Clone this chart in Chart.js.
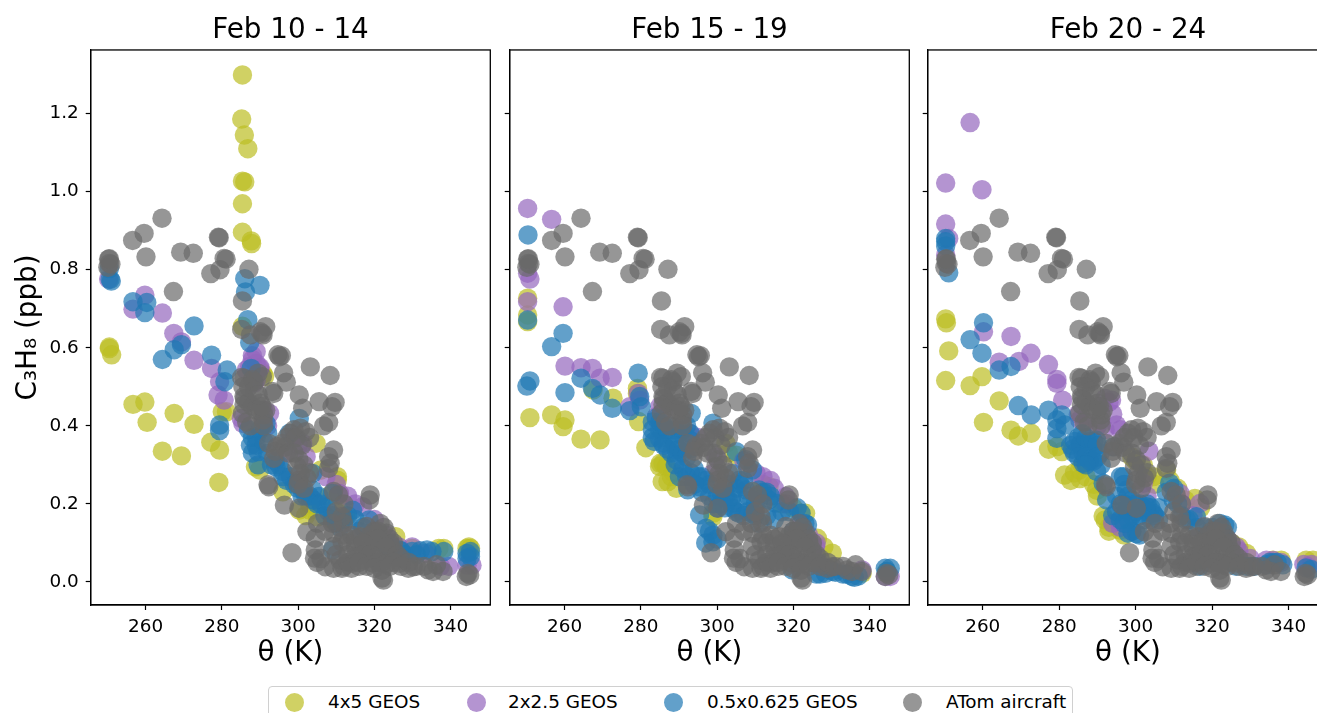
<!DOCTYPE html>
<html>
<head>
<meta charset="utf-8">
<title>C3H8 vs theta</title>
<script src="https://cdn.jsdelivr.net/npm/chart.js@4"></script>
<style>
html, body { margin: 0; padding: 0; background: #fff; overflow: hidden; width: 1317px; height: 713px; }
canvas { position: absolute; top: 0; }
#legend { position: absolute; left: 268px; top: 686px; width: 805px; height: 40px; border: 1.5px solid #d0d0d0; border-radius: 4px; box-sizing: border-box; font: 18.4px "DejaVu Sans"; color: #000; background: #fff; }
#legend span { position: absolute; top: 4px; white-space: nowrap; }
#legend i { position: absolute; top: 6px; width: 19px; height: 19px; border-radius: 50%; }
</style>
</head>
<body>
<canvas id="panel1" width="500" height="713" style="left:0"></canvas>
<canvas id="panel2" width="420" height="713" style="left:500px"></canvas>
<canvas id="panel3" width="420" height="713" style="left:918px"></canvas>
<div id="legend"></div>
<script>
const panelTitles = ["Feb 10 - 14", "Feb 15 - 19", "Feb 20 - 24"];
const seriesNames = ["4x5 GEOS", "2x2.5 GEOS", "0.5x0.625 GEOS", "ATom aircraft"];
const seriesColors = ["rgba(188,189,34,0.7)", "rgba(148,103,189,0.7)", "rgba(31,119,180,0.7)", "rgba(105,105,105,0.7)"];
const xTicks = [260, 280, 300, 320, 340];
const yTicks = [0, 0.2, 0.4, 0.6, 0.8, 1.0, 1.2];

// [theta, c3h8]
const aircraft = [[264.3,.932],[259.6,.893],[256.6,.875],[260.1,.833],[269.2,.845],[272.5,.842],[279.1,.883],[279.3,.882],[281.1,.827],[280.6,.829],[279.5,.8],[277.1,.79],[287.1,.801],[267.3,.744],[285.4,.72],[250.3,.827],[250.5,.816],[250.1,.806],[250.9,.814],[250.5,.828],[285.2,.647],[287.5,.633],[291.5,.654],[290.8,.633],[290.1,.641],[290.6,.637],[295.1,.577],[295.6,.58],[294.7,.582],[296.2,.536],[303.2,.551],[308.4,.529],[296.9,.512],[300.3,.479],[301.2,.445],[305.5,.462],[309.7,.46],[308.9,.449],[308,.409],[306.7,.4],[285.2,.524],[285.8,.522],[289.5,.535],[290.6,.526],[288.4,.513],[288,.518],[293.6,.483],[293.2,.488],[285.8,.475],[285.8,.454],[285.4,.432],[290.1,.458],[291,.428],[290.8,.415],[300.6,.394],[298,.381],[298.9,.39],[295.8,.355],[292.3,.355],[294.5,.347],[293.6,.317],[309.3,.338],[308,.321],[308.4,.304],[308,.291],[300.2,.313],[299.7,.296],[300.6,.278],[302.3,.266],[300.2,.261],[292.3,.244],[292.1,.249],[296.4,.197],[300.2,.189],[309.3,.232],[310.6,.223],[318.9,.223],[318.7,.21],[305.1,.15],[302.3,.129],[304.5,.112],[304.5,.082],[304.3,.061],[298.4,.075],[309.3,.091],[311.9,.15],[311.5,.167],[309.3,.125],[311.5,.103],[316.3,.116],[318,.142],[321.5,.15],[323.2,.125],[319.7,.108],[318,.082],[321.5,.074],[324.1,.099],[311,.056],[309.3,.035],[307.1,.039],[311.5,.035],[314.1,.048],[317.1,.056],[319.7,.048],[323.7,.065],[322,.01],[322.4,.005],[326.7,.048],[328.9,.035],[330.2,.039],[334.1,.031],[336.3,.044],[335.4,.027],[338,.027],[344.1,.014],[344.5,.022],[345,.018],[315,.09],[316,.07],[318,.1],[320,.09],[322,.1],[320,.06],[316,.04],[313,.05],[325,.08],[322,.05],[314,.12],[312,.12],[320,.13],[306,.06],
[286,.47],[287,.46],[288,.45],[289,.44],[286.5,.41],[287.5,.4],[290,.44],[291.5,.44],[290.5,.45],[285.5,.5],[287,.5],[288.5,.49],[289.5,.48],[291,.4],[297,.37],[299.5,.37],[296.5,.345],[294,.335],[297.5,.33],[302,.385],[303,.37],[301,.35],[299,.33],[301.5,.3],[300,.25],[301.5,.24],[303,.28],[319,.12],[321,.13],[322.5,.14],[324,.11],[325,.1],[313,.1],[315,.11],[317,.1],[321,.11],[323,.09],[326,.07],[327,.06],[313,.07],[315,.065],[317,.07],[319,.07],[321,.05],[323,.045],[325,.05],[312,.04],[314,.035],[316,.05],[318,.04],[320,.035],[322,.03],[324,.04],[327,.04],[329,.05],[331,.04],[333,.04],[307,.13],[305,.05],[310,.07],[309,.15],[310,.18],[312,.2]];

const olive1 = [[285.4,1.299],[285.2,1.186],[285.9,1.145],[286.8,1.11],[285.4,1.027],[286,1.025],[285.4,.969],[285.4,.896],[287.7,.874],[287.8,.867],[285.4,.655],[250.5,.602],[250.5,.598],[251.1,.582],[256.7,.455],[259.8,.461],[260.4,.409],[267.5,.432],[272.7,.404],[264.4,.335],[269.4,.323],[279.2,.255],[277.1,.358],[279.4,.338],[280.1,.436],[281.2,.436],[288.8,.295],[289.9,.287],[296,.231],[300.3,.184],[303,.184],[304.7,.355],[306,.287],[310.3,.27],[310.3,.261],[310.8,.227],[305.1,.167],[329.9,.086],[336.9,.086],[338.2,.086],[344.3,.086],[345.2,.086],[344.8,.09],[290.8,.534],[291.2,.526],[325.6,.116],[321.2,.107],[312.5,.167],[309,.16],[290.8,.44],[312,.19],[308,.22],[303,.2],[302,.17]];
const purple1 = [[250.3,.776],[256.7,.699],[259.8,.735],[264.4,.689],[267.4,.637],[269.4,.615],[272.7,.568],[277.3,.547],[279.4,.513],[279,.479],[280.6,.466],[287.3,.552],[289.9,.547],[286.4,.543],[289,.517],[285.1,.419],[285.5,.406],[292.5,.432],[301.2,.355],[302.1,.321],[307.3,.27],[310.8,.227],[316.9,.193],[329.9,.09],[333.4,.073],[337.3,.04],[339.5,.04],[344.3,.043],[345.6,.043],[326.4,.09],[288,.57],[289,.56],[290,.55],[288,.58],[289,.59],[288.5,.51],[291,.41],[291,.44],[292,.4],[299,.37],[300,.35],[297,.33],[310,.25],[313,.22],[315,.2],[320,.16],[323,.12]];
const blue1 = [[250.5,.803],[250.7,.775],[251,.771],[256.7,.718],[260.3,.716],[259.8,.69],[264.4,.57],[267.5,.595],[269.4,.608],[272.7,.656],[277.3,.581],[286,.777],[286.2,.743],[290,.76],[286.8,.672],[287.3,.613],[287.7,.547],[281.4,.543],[280.8,.513],[279.4,.402],[279.4,.388],[300.3,.419],[297.7,.381],[289,.372],[289.5,.334],[289.5,.3],[291.6,.406],[292,.381],[296,.283],[294.2,.295],[301.2,.236],[303.8,.236],[305.5,.219],[307.3,.193],[309.9,.159],[314.3,.184],[309,.227],[303.8,.278],[299.5,.253],[309,.082],[318.6,.159],[321.2,.107],[329.9,.078],[333.8,.082],[335.1,.078],[338.2,.078],[344.3,.073],[345.2,.065],[345.2,.078],[344.3,.06],[326.4,.082],[323.8,.09],
[287,.39],[288,.37],[287.5,.35],[288,.33],[289,.35],[290,.39],[291,.36],[292,.33],[293,.3],[294,.31],[295,.3],[296,.27],[297,.26],[298,.27],[299,.25],[300,.24],[301,.22],[302,.22],[303,.22],[304,.21],[305,.2],[306,.2],[307,.17],[308,.18],[309,.17],[310,.15],[311,.14],[312,.16],[313,.17],[315,.16],[316,.13],[317,.14],[322,.1],[324,.08],[327,.08],[328,.07],[331,.07],[332,.08]];

const olive2 = [[250.3,.727],[250.3,.684],[250.3,.667],[250.9,.421],[256.6,.428],[260.1,.415],[259.6,.398],[264.3,.366],[269.3,.364],[267.5,.492],[272.7,.471],[279.1,.496],[279.1,.483],[279.4,.411],[281.3,.344],[285.1,.304],[285.8,.304],[285.6,.257],[287.1,.257],[289.3,.24],[302.3,.355],[305,.325],[313.6,.244],[322,.176],[326.3,.112],[330.2,.074],[338,.022],[344.5,.027],[298.9,.176],[298.9,.167],[323.2,.176],[284.9,.296],[286.7,.296],[312,.25],[317,.2],[320,.19],[328,.09],[303,.33],[288.5,.28],[288,.27]];
const purple2 = [[250.3,.957],[256.6,.929],[250.3,.791],[250.9,.776],[250.3,.718],[259.6,.705],[260.1,.553],[264.3,.549],[267.3,.547],[269.3,.522],[272.5,.524],[279.3,.483],[277.1,.449],[279.7,.466],[284.1,.424],[292.8,.381],[299.7,.321],[310.2,.278],[298.9,.278],[318,.219],[325.8,.091],[344.1,.014],[345.4,.014],[338,.031],[285,.45],[286,.44],[293,.37],[295,.37],[307,.31],[312,.27],[314,.26],[318,.2],[322,.15],[324,.12],[326,.1],[315,.24]];
const blue2 = [[250.4,.889],[250.3,.671],[259.6,.637],[256.6,.603],[250.9,.515],[250.1,.502],[260.1,.485],[264.3,.522],[267.3,.496],[269.3,.479],[272.5,.445],[277.1,.439],[279.3,.535],[279.7,.475],[280.1,.449],[293.2,.432],[284.9,.39],[284.9,.368],[285.8,.355],[288,.372],[289.3,.338],[289.3,.313],[292.8,.364],[298.9,.407],[305,.334],[295.4,.172],[297.1,.138],[298.9,.12],[298.9,.103],[292.3,.236],[295.4,.244],[304.1,.278],[305.8,.261],[307.5,.236],[311,.236],[304.1,.202],[305.8,.176],[302.3,.219],[313.6,.21],[322,.176],[323.7,.146],[319.7,.031],[328.4,.022],[330.2,.027],[335.4,.014],[344.1,.035],[345.4,.035],[344.5,.027],[309.3,.176],[315.4,.202],[309.3,.287],[307.5,.313],[290.1,.27],
[283,.41],[283,.39],[283,.37],[283.5,.36],[284,.42],[285,.41],[286,.4],[287,.39],[288,.4],[289,.39],[290,.38],[291,.39],[292,.4],[293,.38],[286,.35],[287,.34],[288,.33],[289,.35],[290,.34],[291,.33],[292,.32],[293,.34],[289,.3],[291,.29],[293,.28],[294,.29],[295,.27],[296,.27],[297,.26],[298,.25],[296,.23],[298,.22],[300,.22],[301,.23],[302,.24],[303,.25],[305,.24],[306,.25],[307,.26],[308,.22],[309,.21],[310,.2],[311,.21],[312,.23],[313,.23],[314,.22],[303,.21],[304,.19],[305,.18],[307,.17],[308,.18],[310,.17],[311,.15],[313,.17],[315,.16],[317,.18],[319,.18],[321,.19],[323,.15],[320,.13],[298,.13],[300,.11],[297,.1],[326,.02],[327,.02],[331,.025],[333,.02],[334,.02],[336,.012],[337,.015],[292,.27],[294,.25],[299,.2],[300,.19],[301,.2],[302,.19],[304,.22]];

const olive3 = [[250.3,.674],[250.5,.664],[251.1,.592],[250.3,.516],[256.7,.503],[259.8,.526],[264.3,.464],[260.2,.409],[267.4,.389],[269.3,.374],[272.7,.381],[277.2,.34],[279.4,.347],[280.7,.334],[281.4,.274],[285.3,.287],[285.4,.265],[289.8,.235],[291.5,.169],[292,.159],[295.9,.133],[294.1,.15],[308.1,.287],[304.6,.27],[315.5,.214],[329,.073],[338.1,.056],[344.6,.056],[346.4,.056],[335.9,.056],[286,.3],[287,.27],[289,.25],[290,.22],[293,.14],[299,.32],[300,.31],[302,.3],[303,.27],[305,.25],[309,.26],[311,.24],[313,.21],[317,.19],[325,.1],[327,.09],[284,.28],[283,.26],[293,.13],[297,.12]];
const purple3 = [[256.7,1.177],[250.3,1.022],[259.8,1.005],[250.3,.917],[251.1,.88],[250.3,.838],[260.2,.641],[267.4,.629],[264.3,.563],[269.5,.565],[272.6,.586],[277.2,.557],[279.4,.519],[279.4,.509],[280.9,.466],[293.7,.466],[285.4,.415],[295,.402],[303.5,.335],[295.9,.154],[296.8,.15],[311.6,.227],[302,.253],[316.8,.201],[326.3,.09],[334.2,.056],[345,.039],[285,.43],[287,.41],[290,.4],[292,.39],[294,.43],[292,.47],[293,.46],[296,.39],[296,.14],[294,.15],[299,.13],[303,.22],[312,.2],[315,.17],[324,.11],[327,.08],[330,.06],[336,.055],[338,.05],[344,.045],[346,.045]];
const blue3 = [[250.3,.88],[250.3,.872],[250.3,.861],[251.1,.792],[260.2,.664],[256.7,.621],[259.8,.586],[264.3,.543],[267.4,.552],[269.3,.452],[272.7,.428],[277.2,.44],[280.7,.428],[279.4,.415],[279.4,.393],[281.5,.402],[279.4,.368],[285.4,.351],[287.2,.347],[288.9,.342],[289.8,.363],[290.7,.33],[294.1,.346],[286.3,.33],[286.3,.304],[289.8,.283],[291.5,.253],[292.4,.21],[296.8,.27],[297.6,.235],[302.8,.193],[304.6,.176],[300.2,.124],[308.9,.253],[309.8,.21],[315.9,.167],[323.3,.146],[321.1,.133],[316.8,.04],[326.3,.04],[334.2,.044],[338.5,.044],[344.6,.036],[345.9,.032],[297.6,.184],[313.3,.159],
[283,.35],[283.5,.34],[284,.36],[285,.37],[286,.38],[287,.37],[288,.36],[289,.36],[290,.35],[284,.33],[285,.32],[287,.32],[288,.31],[289,.31],[290,.32],[291,.3],[287,.3],[296,.27],[297,.25],[298,.22],[299,.21],[295,.22],[296,.2],[295,.18],[294,.17],[298,.16],[300,.18],[301,.2],[302,.19],[303,.18],[304,.19],[305,.17],[306,.16],[306,.19],[299,.13],[298,.125],[301,.12],[308,.23],[310,.24],[311,.2],[312,.17],[314,.16],[316,.14],[318,.14],[320,.14],[322,.15],[324,.14],[323,.12],[329,.04],[331,.04],[335,.05],[336,.05],[337,.05],[297,.2],[298,.19],[300,.2],[301,.17],[303,.2],[299,.17],[296,.16],[297,.15],[304,.16],[302,.16]];

const panelData = [[olive1, purple1, blue1, aircraft], [olive2, purple2, blue2, aircraft], [olive3, purple3, blue3, aircraft]];

Chart.defaults.font.family = "DejaVu Sans";
Chart.defaults.color = "#000";

// full box round the plot, chart.js only draws the axis sides
const boxPlugin = {
    id: "box",
    afterDraw(chart) {
        const a = chart.chartArea, c = chart.ctx;
        c.save();
        c.strokeStyle = "#000";
        c.lineWidth = 1.3;
        c.strokeRect(a.left, a.top, a.right - a.left, a.bottom - a.top);
        c.restore();
    }
};

function drawPanel(id, title, series, axisWidth, rightPad, first) {
    new Chart(document.getElementById(id), {
        type: "scatter",
        plugins: [boxPlugin],
        data: {
            datasets: series.map((pts, i) => ({
                label: seriesNames[i],
                data: pts.map(p => ({ x: p[0], y: p[1] })),
                backgroundColor: seriesColors[i],
                borderWidth: 0,
                pointRadius: 9.7,
                order: 4 - i
            }))
        },
        options: {
            responsive: false,
            animation: false,
            events: [],
            layout: { padding: { left: 0, right: rightPad, top: 0, bottom: 43 } },
            plugins: {
                legend: { display: false },
                tooltip: { enabled: false },
                title: { display: true, fullSize: false, text: title, font: { size: 27.8, weight: "normal" }, padding: { top: 14, bottom: 2.6 } }
            },
            scales: {
                x: {
                    type: "linear", min: 245.6, max: 350.4,
                    afterBuildTicks: s => { s.ticks = xTicks.map(v => ({ value: v })); },
                    afterFit: s => { s.height = 65; },
                    grid: { drawOnChartArea: false, tickColor: "#000", tickLength: 5, tickWidth: 1.2 },
                    border: { color: "#000", width: 1.3 },
                    ticks: { font: { size: 18.4 }, padding: 6, maxRotation: 0, includeBounds: false },
                    title: { display: true, text: "θ (K)", font: { size: 27.8 }, padding: 0 }
                },
                y: {
                    min: -0.059, max: 1.363,
                    afterBuildTicks: s => { s.ticks = yTicks.map(v => ({ value: v })); },
                    afterFit: s => { s.width = axisWidth; },
                    grid: { drawOnChartArea: false, tickColor: "#000", tickLength: 5, tickWidth: 1.2 },
                    border: { color: "#000", width: 1.3 },
                    ticks: { display: first, font: { size: 18.4 }, padding: 7, callback: v => v.toFixed(1) },
                    title: { display: first, text: "C₃H₈ (ppb)", font: { size: 27.8 }, padding: { top: 12, bottom: 0 } }
                }
            }
        }
    });
}

drawPanel("panel1", panelTitles[0], panelData[0], 90.7, 8.3, true);
drawPanel("panel2", panelTitles[1], panelData[1], 9.3, 10.7, false);
drawPanel("panel3", panelTitles[2], panelData[2], 9.3, 9.7, false);

const legendDots = [25, 207, 404, 643];
const legendText = [59, 239, 438, 677];
const legend = document.getElementById("legend");
seriesNames.forEach((name, i) => {
    const dot = document.createElement("i");
    dot.style.left = (legendDots[i] - 9.5) + "px";
    dot.style.background = seriesColors[i];
    const txt = document.createElement("span");
    txt.style.left = legendText[i] + "px";
    txt.textContent = name;
    legend.appendChild(dot);
    legend.appendChild(txt);
});
</script>
</body>
</html>
